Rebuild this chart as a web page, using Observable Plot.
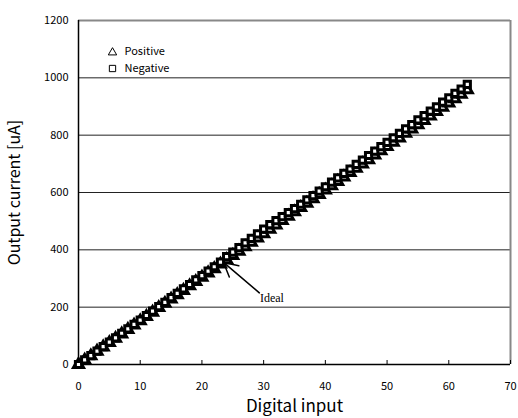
<!DOCTYPE html>
<html>
<head>
<meta charset="utf-8">
<script src="https://cdn.jsdelivr.net/npm/d3@7"></script>
<script src="https://cdn.jsdelivr.net/npm/@observablehq/plot@0.6"></script>
<style>
  html, body { margin: 0; padding: 0; background: #fff; }
</style>
</head>
<body>
<div id="chart"></div>
<script>
const codes = d3.range(0, 64);
const positive = [0,15,30,46,61,76,91,106,122,137,152,167,182,198,213,228,243,258,274,289,304,319,334,350,365,380,395,410,426,441,456,471,486,502,517,532,547,562,578,593,608,623,638,654,669,684,699,714,730,745,760,775,790,806,821,836,851,866,882,897,912,927,942,958];
const negative = [0,16,31,47,62,78,93,109,124,140,155,171,186,202,217,233,248,264,279,295,310,326,341,357,376,392,408,424,440,456,472,488,502,516,530,544,559,574,589,605,620,636,651,667,682,698,713,729,744,760,775,791,806,822,837,853,868,884,899,915,930,946,961,977];
const idealX = [0, 63];
const idealY = [0, 976];
const xTicks = [0, 10, 20, 30, 40, 50, 60, 70];
const yTicks = [0, 200, 400, 600, 800, 1000, 1200];
const gridTicks = [200, 400, 600, 800, 1000];
const seriesNames = ["Positive", "Negative"];
const arrowNote = [{x1: 29.3, y1: 250, x2: 23.5, y2: 356, label: "Ideal", lx: 29.4, ly: 230}];

const posData = codes.map((c, i) => ({x: c, y: positive[i]}));
const negData = codes.map((c, i) => ({x: c, y: negative[i]}));
const idealData = idealX.map((x, i) => ({x, y: idealY[i]}));

const font = "'Noto Sans CJK JP', 'Liberation Sans', sans-serif";

const chart = Plot.plot({
  width: 518,
  height: 418,
  marginLeft: 78,
  marginRight: 8,
  marginTop: 20,
  marginBottom: 54,
  style: {fontFamily: font, fontSize: "11px", color: "#000", background: "#fff"},
  x: {domain: [0, 70], ticks: xTicks},
  y: {domain: [0, 1200], ticks: yTicks},
  marks: [
    Plot.ruleY(gridTicks, {stroke: "#222", strokeWidth: 1}),
    Plot.ruleY([1200], {stroke: "#888", strokeWidth: 2}),
    Plot.ruleX([70], {stroke: "#888", strokeWidth: 2}),
    Plot.ruleX([0], {stroke: "#000", strokeWidth: 1.5}),
    Plot.ruleY([0], {stroke: "#000", strokeWidth: 1.5}),
    Plot.ruleX(xTicks, {x: d => d, y1: 0, y2: 0, insetTop: -4, stroke: "#000", strokeWidth: 1}),
    Plot.axisX({ticks: xTicks, tickSize: 0, tickPadding: 18, tickFormat: d3.format("d"), label: null, fontSize: 11}),
    Plot.axisY({ticks: yTicks, tickSize: 0, tickPadding: 10, tickFormat: d3.format("d"), label: null, fontSize: 11}),
    Plot.line(idealData, {x: "x", y: "y", stroke: "#000", strokeWidth: 1}),
    Plot.dot(posData, {x: "x", y: "y", symbol: "triangle", r: 3.7, stroke: "#000", strokeWidth: 3, fill: "#fff"}),
    Plot.dot(negData, {x: "x", y: "y", symbol: "square", r: 3.5, stroke: "#000", strokeWidth: 3, fill: "#fff"}),
    Plot.arrow(arrowNote, {x1: "x1", y1: "y1", x2: "x2", y2: "y2", stroke: "#000", strokeWidth: 1.5, headLength: 24, headAngle: 56}),
    Plot.text(arrowNote, {x: "lx", y: "ly", text: "label", textAnchor: "start", fontSize: 12, fontFamily: "'Liberation Serif', serif"}),
    Plot.dot([seriesNames[0]], {frameAnchor: "top-left", dx: 34, dy: 32, symbol: "triangle2", r: 4, stroke: "#000", strokeWidth: 1, fill: "none"}),
    Plot.dot([seriesNames[1]], {frameAnchor: "top-left", dx: 34, dy: 48, symbol: "square2", r: 4, stroke: "#000", strokeWidth: 1, fill: "none"}),
    Plot.text([seriesNames[0]], {frameAnchor: "top-left", dx: 46, dy: 31, lineAnchor: "middle", text: d => d, textAnchor: "start", fontSize: 11}),
    Plot.text([seriesNames[1]], {frameAnchor: "top-left", dx: 46, dy: 48, lineAnchor: "middle", text: d => d, textAnchor: "start", fontSize: 11}),
    Plot.text(["Output current [uA]"], {frameAnchor: "left", dx: -64, rotate: -90, textAnchor: "middle", lineAnchor: "middle", text: d => d, fontSize: 16}),
    Plot.text(["Digital input"], {frameAnchor: "bottom", dy: 42, lineAnchor: "middle", text: d => d, fontSize: 17})
  ]
});
document.getElementById("chart").appendChild(chart);
</script>
</body>
</html>
